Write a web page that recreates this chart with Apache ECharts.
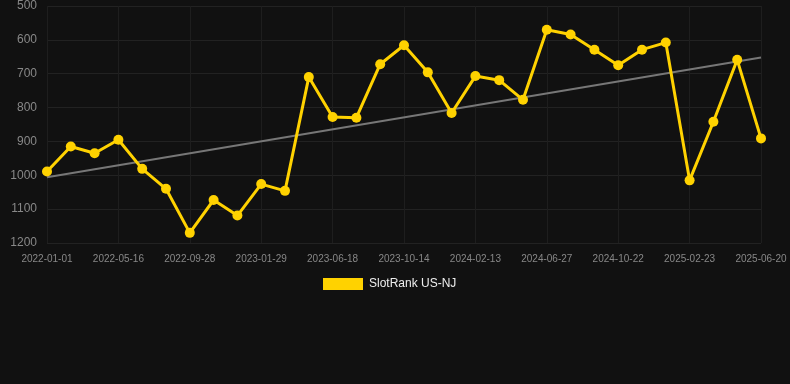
<!DOCTYPE html>
<html>
<head>
<meta charset="utf-8">
<script src="https://cdn.jsdelivr.net/npm/echarts@6/dist/echarts.min.js"></script>
<style>
html, body { margin: 0; padding: 0; background: #111111; }
#chart { width: 790px; height: 384px; }
</style>
</head>
<body>
<div id="chart"></div>
<script>
var dates = ['2022-01-01', '2022-02-15', '2022-04-01', '2022-05-16', '2022-06-30', '2022-08-14',
    '2022-09-28', '2022-11-08', '2022-12-19', '2023-01-29', '2023-03-15', '2023-05-02',
    '2023-06-18', '2023-07-27', '2023-09-04', '2023-10-14', '2023-11-24', '2024-01-03',
    '2024-02-13', '2024-03-29', '2024-05-13', '2024-06-27', '2024-08-05', '2024-09-13',
    '2024-10-22', '2024-12-02', '2025-01-12', '2025-02-23', '2025-04-03', '2025-05-12',
    '2025-06-20'];

var rank = [989, 915, 935, 895, 981, 1040, 1170, 1073, 1119, 1026, 1046, 710,
    828, 830, 672, 616, 696, 816, 707, 719, 777, 570, 584, 629, 675, 629, 608,
    1015, 842, 659, 891];

// trend line ends (first and last category)
var trendStart = 1006;
var trendEnd = 652;

var yTicks = { min: 500, max: 1200, step: 100 };

var trend = dates.map(function (d, i) {
    if (i === 0) return trendStart;
    if (i === dates.length - 1) return trendEnd;
    return null;
});

var option = {
    backgroundColor: '#111111',
    animation: false,
    grid: {
        left: 47,
        right: 29,
        top: 6,
        bottom: 141
    },
    legend: {
        data: ['SlotRank US-NJ'],
        top: 273,
        left: 318,
        itemWidth: 40,
        itemHeight: 12,
        icon: 'rect',
        textStyle: {
            color: '#eeeeee',
            fontSize: 12,
            fontFamily: 'Arial',
            padding: [0, 0, 0, 1]
        }
    },
    xAxis: {
        type: 'category',
        data: dates,
        boundaryGap: false,
        axisLine: { show: false },
        axisTick: { show: false },
        axisLabel: {
            interval: 2,
            color: '#888888',
            fontSize: 10,
            fontFamily: 'Arial',
            margin: 11
        },
        splitLine: {
            show: true,
            interval: 2,
            lineStyle: { color: '#1e1e1e', width: 1 }
        }
    },
    yAxis: {
        type: 'value',
        inverse: true,
        min: yTicks.min,
        max: yTicks.max,
        interval: yTicks.step,
        axisLine: { show: false },
        axisTick: { show: false },
        axisLabel: {
            color: '#888888',
            fontSize: 12,
            fontFamily: 'Arial',
            margin: 10,
            formatter: function (v) { return String(v); }
        },
        splitLine: {
            lineStyle: { color: '#222222', width: 1 }
        }
    },
    series: [
        {
            name: 'Trend',
            type: 'line',
            data: trend,
            connectNulls: true,
            symbol: 'none',
            silent: true,
            lineStyle: { color: '#777777', width: 2 },
            z: 1
        },
        {
            name: 'SlotRank US-NJ',
            type: 'line',
            data: rank,
            symbol: 'circle',
            symbolSize: 10,
            itemStyle: { color: '#ffd200' },
            lineStyle: { color: '#ffd200', width: 3 },
            z: 2
        }
    ]
};

var chart = echarts.init(document.getElementById('chart'));
chart.setOption(option);
</script>
</body>
</html>
